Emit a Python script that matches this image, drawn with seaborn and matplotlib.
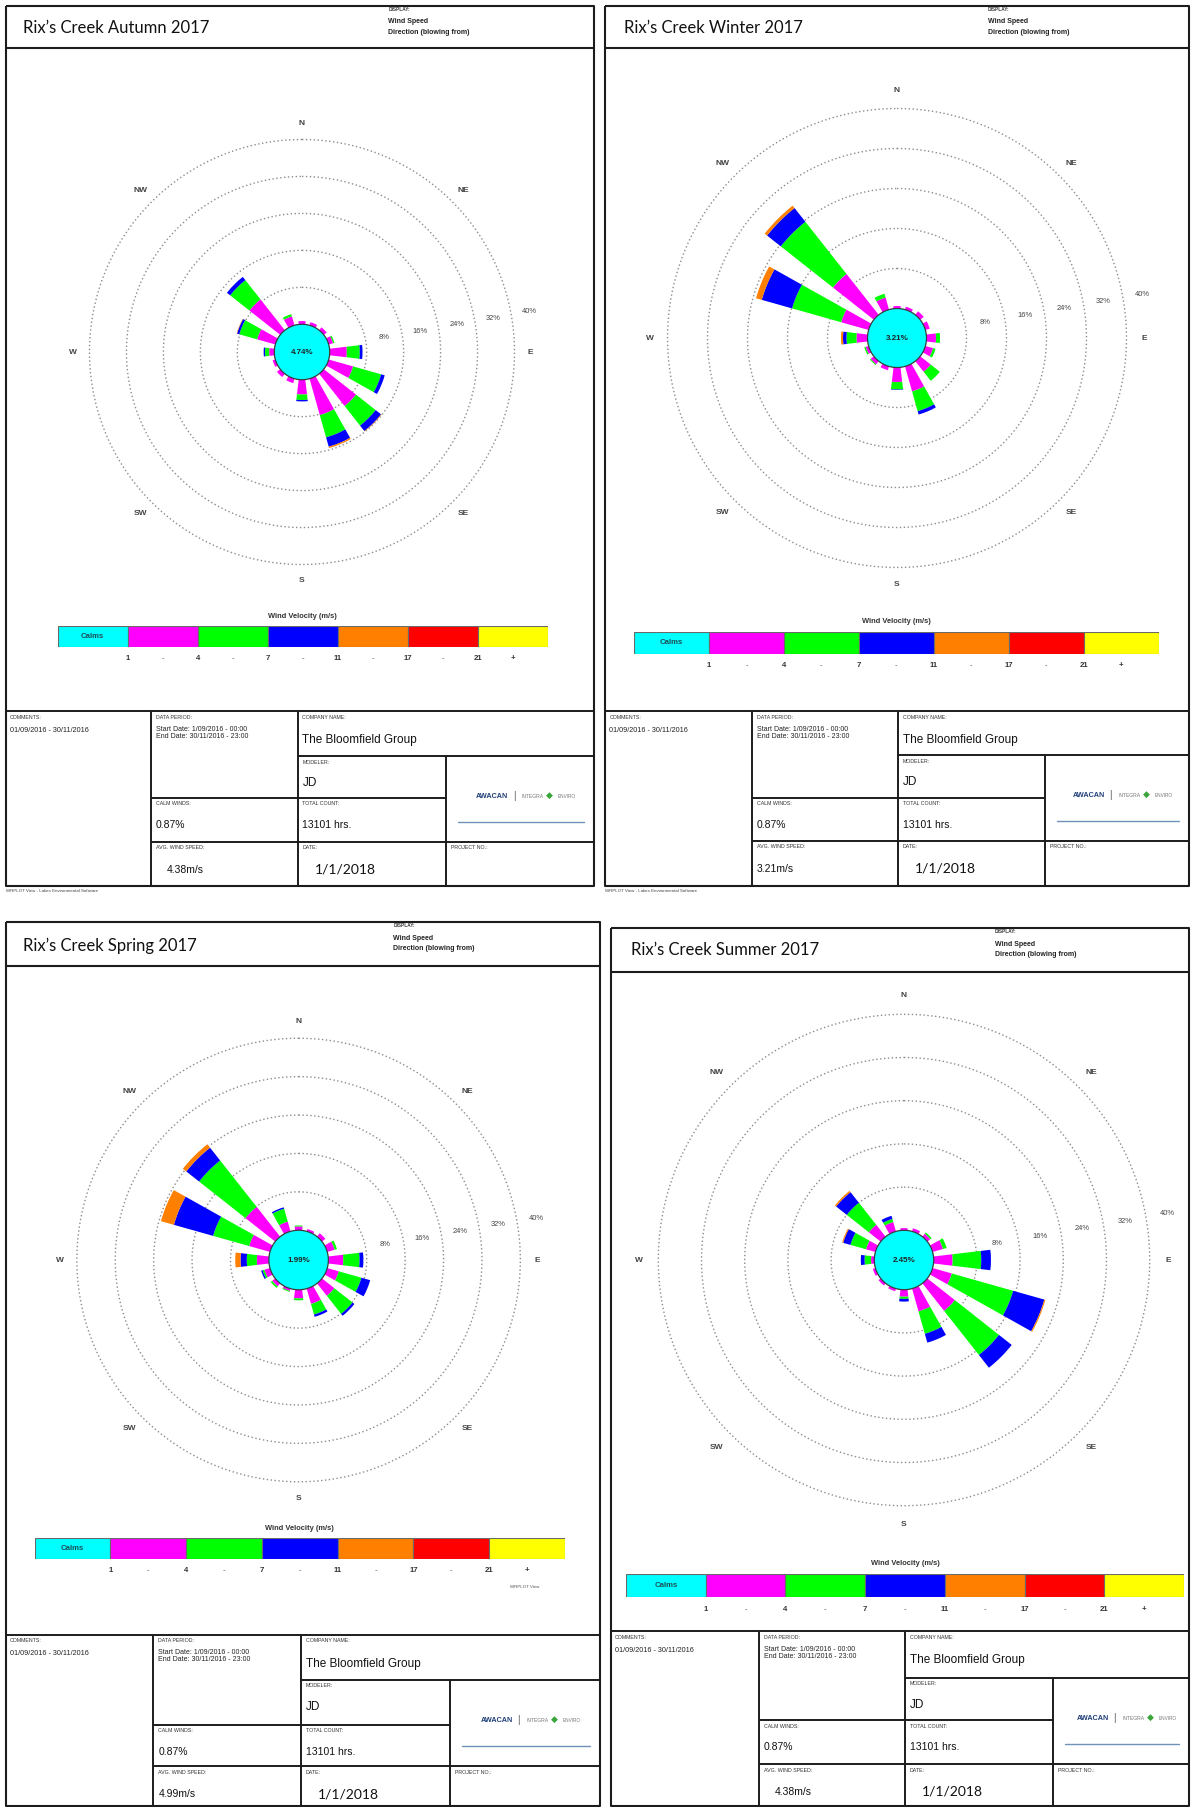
import numpy as np
import matplotlib
matplotlib.use("Agg")
import matplotlib.pyplot as plt
import seaborn as sns

sns.set_theme(style="white")
plt.rcParams["font.family"] = ["Liberation Sans", "DejaVu Sans"]

# ---------------------------------------------------------------- data
DIRECTIONS = ["N", "NNE", "NE", "ENE", "E", "ESE", "SE", "SSE",
              "S", "SSW", "SW", "WSW", "W", "WNW", "NW", "NNW"]
SPEED_BINS = ["Calms", "1 - 4", "4 - 7", "7 - 11", "11 - 17", "17 - 21", "21 +"]
SPEED_EDGES = ["1", "4", "7", "11", "17", "21"]
BIN_COLORS = ["#00FFFF", "#FF00FF", "#00FF00", "#0000FF", "#FF8000", "#FF0000", "#FFFF00"]
RING_PCT = [8, 16, 24, 32, 40]
COMPASS = ["N", "NE", "E", "SE", "S", "SW", "W", "NW"]

# frequency (%) per direction, one list per wind-speed class
AUTUMN_1_4 = [0.7, 0.7, 0.8, 1.0, 3.7, 5.5, 8.9, 8.2, 3.2, 1.0, 0.9, 0.6, 1.1, 4.1, 8.5, 2.0]
AUTUMN_4_7 = [0.0, 0.0, 0.0, 0.3, 2.8, 6.3, 5.4, 5.0, 1.2, 0.0, 0.0, 0.0, 0.9, 4.0, 5.3, 0.5]
AUTUMN_7_11 = [0.0, 0.0, 0.0, 0.0, 0.6, 0.8, 1.5, 2.1, 0.3, 0.0, 0.0, 0.0, 0.3, 0.5, 0.9, 0.0]
AUTUMN_11_17 = [0.0, 0.0, 0.0, 0.0, 0.0, 0.0, 0.1, 0.3, 0.0, 0.0, 0.0, 0.0, 0.0, 0.1, 0.0, 0.0]

WINTER_1_4 = [0.5, 0.6, 0.9, 0.9, 1.9, 1.6, 2.7, 5.2, 2.9, 0.8, 0.8, 0.6, 2.2, 5.7, 10.4, 2.5]
WINTER_4_7 = [0.0, 0.0, 0.0, 0.0, 0.8, 0.5, 2.3, 4.1, 1.5, 0.0, 0.2, 0.3, 2.0, 10.2, 13.3, 0.8]
WINTER_7_11 = [0.0, 0.0, 0.0, 0.0, 0.0, 0.0, 0.0, 0.7, 0.1, 0.0, 0.0, 0.0, 0.7, 6.3, 3.5, 0.0]
WINTER_11_17 = [0.0, 0.0, 0.0, 0.0, 0.0, 0.0, 0.0, 0.0, 0.0, 0.0, 0.0, 0.0, 0.4, 1.2, 0.6, 0.0]

SPRING_1_4 = [0.8, 0.5, 0.9, 1.6, 3.1, 2.5, 3.3, 3.3, 1.8, 0.5, 0.8, 1.2, 2.5, 4.5, 7.9, 2.1]
SPRING_4_7 = [0.2, 0.0, 0.0, 0.5, 3.4, 4.9, 4.8, 2.3, 0.4, 0.2, 0.4, 0.4, 2.1, 7.8, 12.3, 2.8]
SPRING_7_11 = [0.0, 0.0, 0.0, 0.0, 0.8, 1.9, 0.5, 0.5, 0.0, 0.0, 0.0, 0.3, 1.3, 8.5, 3.4, 0.3]
SPRING_11_17 = [0.0, 0.0, 0.0, 0.0, 0.0, 0.0, 0.0, 0.0, 0.0, 0.0, 0.0, 0.0, 1.1, 2.8, 0.9, 0.0]

SUMMER_1_4 = [0.4, 0.6, 0.7, 2.0, 3.5, 3.7, 6.5, 4.4, 1.3, 0.5, 0.5, 0.5, 0.6, 1.8, 2.8, 1.8]
SUMMER_4_7 = [0.0, 0.0, 0.3, 0.7, 5.3, 11.8, 10.4, 4.3, 0.4, 0.0, 0.0, 0.0, 1.2, 3.0, 5.2, 0.6]
SUMMER_7_11 = [0.0, 0.0, 0.0, 0.0, 1.8, 6.0, 3.0, 1.7, 0.5, 0.0, 0.0, 0.0, 0.7, 1.4, 2.5, 0.6]
SUMMER_11_17 = [0.0, 0.0, 0.0, 0.0, 0.0, 0.2, 0.0, 0.0, 0.0, 0.0, 0.0, 0.0, 0.0, 0.2, 0.3, 0.0]

SEASONS = ["Autumn", "Winter", "Spring", "Summer"]
CENTRE_PCT = [4.74, 3.21, 1.99, 2.45]
AVG_SPEED = ["4.38m/s", "3.21m/s", "4.99m/s", "4.38m/s"]
COMMENT = "01/09/2016 - 30/11/2016"
PERIOD_START = "Start Date: 1/09/2016 - 00:00"
PERIOD_END = "End Date: 30/11/2016 - 23:00"
COMPANY = "The Bloomfield Group"
MODELER = "JD"
CALM_WINDS = "0.87%"
TOTAL_COUNT = "13101 hrs."
DATE = "1/1/2018"

SEGMENTS = {
    "Autumn": [AUTUMN_1_4, AUTUMN_4_7, AUTUMN_7_11, AUTUMN_11_17],
    "Winter": [WINTER_1_4, WINTER_4_7, WINTER_7_11, WINTER_11_17],
    "Spring": [SPRING_1_4, SPRING_4_7, SPRING_7_11, SPRING_11_17],
    "Summer": [SUMMER_1_4, SUMMER_4_7, SUMMER_7_11, SUMMER_11_17],
}

# ---------------------------------------------------------------- page layout (pixels)
W, H = 1191, 1807
LAYOUT = {
    "Autumn": dict(box=(5.8, 593.8, 5.8, 885.5), tb=48.4, title=(23, 27.5), head=(388.5, 9.5),
                   centre=(302, 352), k=4.62, r0=6.0,
                   leg=(57.6, 547.6, 626, 647), cols=(5.8, 151, 297.5, 446, 593.8),
                   rows=(711.4, 756.3, 797.8, 841.7), avg_dx=16, foot=True),
    "Winter": dict(box=(605.3, 1188.7, 5.8, 885.5), tb=48.4, title=(623.7, 27.5), head=(988, 9.5),
                   centre=(897, 338), k=5.0, r0=5.9,
                   leg=(634.1, 1158.7, 631.8, 653.7), cols=(605.3, 752, 898, 1044.6, 1188.7),
                   rows=(711.4, 755.2, 797.8, 840.5), avg_dx=5, foot=True),
    "Spring": dict(box=(5.8, 599.5, 922.4, 1805.5), tb=966.2, title=(23, 945.4), head=(393.2, 925.8),
                   centre=(298.6, 1260), k=4.8, r0=6.2,
                   leg=(34.6, 564.9, 1538, 1558.8), cols=(5.8, 153.3, 300.9, 449.7, 599.5),
                   rows=(1634.9, 1679.8, 1724.8, 1766.3), avg_dx=5, foot=False),
    "Summer": dict(box=(611.1, 1188.7, 928.1, 1805.5), tb=971.9, title=(630.7, 950), head=(995, 931.6),
                   centre=(904, 1260), k=5.4, r0=5.5,
                   leg=(626, 1184.1, 1573.8, 1596.8), cols=(611.1, 758.6, 905, 1052.6, 1188.7),
                   rows=(1631.4, 1677.5, 1720.2, 1764), avg_dx=16, foot=False),
}

INK = "#1c1c1c"
fig = plt.figure(figsize=(W / 100, H / 100), dpi=100)
frame = fig.add_axes([0, 0, 1, 1])
frame.set_xlim(0, W)
frame.set_ylim(H, 0)
frame.axis("off")


def line(x, y, lw=1.4):
    frame.plot(x, y, color=INK, lw=lw, solid_capstyle="butt")


def small(x, y, s, size=3.8, **kw):
    frame.text(x, y, s, fontsize=size, color="#333333", va="center", ha="left", **kw)


def draw_sheet(season, L):
    x0, x1, y0, y1 = L["box"]
    line([x0, x1, x1, x0, x0], [y0, y0, y1, y1, y0], lw=1.5)
    line([x0, x1], [L["tb"], L["tb"]], lw=1.5)
    frame.text(L["title"][0], L["title"][1], f"Rix\u2019s Creek {season} 2017", fontsize=12,
               family=["Lato", "DejaVu Sans"], color="#111111", va="center", ha="left")
    hx, hy = L["head"]
    small(hx, hy, "DISPLAY:", 3.4, fontweight="bold")
    frame.text(hx, hy + 12.4, "Wind Speed", fontsize=5.0, color="#222222", va="center", fontweight="bold")
    frame.text(hx, hy + 22.8, "Direction (blowing from)", fontsize=5.0, color="#222222", va="center",
               fontweight="bold")

    # info table
    c0, c1, c2, c3, c4 = L["cols"]
    top, cl, ml, rl = L["rows"]
    line([c0, c4], [top, top])
    line([c1, c1], [top, y1])
    line([c2, c2], [top, y1])
    line([c3, c3], [cl, y1])
    line([c2, c4], [cl, cl])
    line([c1, c3], [ml, ml])
    line([c1, c4], [rl, rl])

    small(c0 + 4, top + 6, "COMMENTS:")
    frame.text(c0 + 4, top + 19, COMMENT, fontsize=5.2, color="#222222", va="center")
    small(c1 + 5, top + 6, "DATA PERIOD:")
    frame.text(c1 + 5, top + 18, PERIOD_START, fontsize=5.0, color="#222222", va="center")
    frame.text(c1 + 5, top + 25, PERIOD_END, fontsize=5.0, color="#222222", va="center")
    small(c2 + 5, top + 6, "COMPANY NAME:")
    frame.text(c2 + 5, top + 29, COMPANY, fontsize=8.5, color="#111111", va="center")
    small(c2 + 5, cl + 6, "MODELER:")
    frame.text(c2 + 5, cl + 27, MODELER, fontsize=8.5, color="#111111", va="center")
    small(c1 + 5, ml + 6, "CALM WINDS:")
    frame.text(c1 + 5, ml + 27, CALM_WINDS, fontsize=7.5, color="#111111", va="center")
    small(c2 + 5, ml + 6, "TOTAL COUNT:")
    frame.text(c2 + 5, ml + 27, TOTAL_COUNT, fontsize=7.5, color="#111111", va="center")
    small(c1 + 5, rl + 6, "AVG. WIND SPEED:")
    frame.text(c1 + L["avg_dx"], rl + 28, AVG_SPEED[SEASONS.index(season)], fontsize=7.5,
               color="#111111", va="center")
    small(c2 + 5, rl + 6, "DATE:")
    frame.text(c2 + 17, rl + 28, DATE, fontsize=10, family=["Lato", "DejaVu Sans"],
               color="#111111", va="center")
    small(c3 + 5, rl + 6, "PROJECT NO.:")

    # logo block
    lx = (c3 + c4) / 2
    ly = cl + (rl - cl) * 0.47
    frame.text(lx - 12, ly, "AWACAN", fontsize=5.2, color="#1f3f78", ha="right", va="center",
               fontweight="bold")
    frame.text(lx - 6, ly, "|", fontsize=7, color="#555555", ha="center", va="center")
    frame.text(lx + 2, ly, "INTEGRA", fontsize=3.6, color="#777777", ha="left", va="center")
    frame.text(lx + 30, ly - 1, "\u25C6", fontsize=6.5, color="#3aa53a", ha="center", va="center")
    frame.text(lx + 38, ly, "ENVIRO", fontsize=3.4, color="#777777", ha="left", va="center")
    frame.plot([c3 + 12, c4 - 10], [cl + (rl - cl) * 0.77] * 2, color="#6f93b8", lw=1.0)

    if L["foot"]:
        frame.text(x0, y1 + 5, "WRPLOT View - Lakes Environmental Software", fontsize=3.2,
                   color="#444444", va="center", ha="left")


def draw_legend(L):
    lx0, lx1, ly0, ly1 = L["leg"]
    ax = fig.add_axes([lx0 / W, 1 - ly1 / H, (lx1 - lx0) / W, (ly1 - ly0) / H])
    xs = np.arange(len(SPEED_BINS))
    ax.bar(xs, np.ones(len(SPEED_BINS)), width=1.0, color=sns.color_palette(BIN_COLORS),
           edgecolor="#6a6a6a", linewidth=0.8)
    ax.set_xlim(-0.5, len(SPEED_BINS) - 0.5)
    ax.set_ylim(0, 1)
    ax.axis("off")
    ax.text(0, 0.5, SPEED_BINS[0], ha="center", va="center", fontsize=5.6, fontweight="bold",
            color="#1d4f55")
    ax.text((len(SPEED_BINS) - 1) / 2, 1.45, "Wind Velocity (m/s)", ha="center", va="center",
            fontsize=5.4, fontweight="bold", color="#333333", clip_on=False)
    for i, edge in enumerate(SPEED_EDGES):
        ax.text(i + 0.5, -0.55, edge, ha="center", va="center", fontsize=5.6, fontweight="bold",
                color="#333333", clip_on=False)
        if i < len(SPEED_EDGES) - 1:
            ax.text(i + 1, -0.55, "-", ha="center", va="center", fontsize=5.6, color="#555555",
                    clip_on=False)
    ax.text(len(SPEED_BINS) - 1, -0.55, "+", ha="center", va="center", fontsize=5.6,
            fontweight="bold", color="#333333", clip_on=False)


def draw_rose(season, L):
    cx, cy = L["centre"]
    k, r0 = L["k"], L["r0"]
    rmax = r0 + 47
    half = rmax * k
    ax = fig.add_axes([(cx - half) / W, (H - cy - half) / H, 2 * half / W, 2 * half / H],
                      projection="polar")
    ax.set_theta_zero_location("N")
    ax.set_theta_direction(-1)
    ax.set_ylim(0, rmax)
    ax.axis("off")
    ax.patch.set_alpha(0)

    t = np.linspace(0, 2 * np.pi, 721)
    for p in RING_PCT:
        ax.plot(t, np.full_like(t, r0 + p), color="#8c8c8c", lw=1.0, ls=(0, (1, 1.8)), zorder=1)
        ax.text(np.deg2rad(80), r0 + p + 4, f"{p}%", ha="center", va="center", fontsize=5.4,
                color="#444444")
    for i, lab in enumerate(COMPASS):
        ax.text(np.deg2rad(i * 45), r0 + 43.5, lab, ha="center", va="center", fontsize=6,
                fontweight="bold", color="#444444")

    theta = np.deg2rad(np.arange(len(DIRECTIONS)) * 22.5)
    cum = np.zeros(len(DIRECTIONS))
    for seg, col in zip(SEGMENTS[season], BIN_COLORS[1:]):
        seg = np.asarray(seg, dtype=float)
        ax.bar(theta, seg, width=np.deg2rad(13.5), bottom=r0 + cum, color=col,
               edgecolor="none", linewidth=0, zorder=3)
        cum += seg

    ax.fill(t, np.full_like(t, r0), facecolor=BIN_COLORS[0], edgecolor="#3a3a3a", lw=0.9, zorder=4)
    ax.text(0, 0, f"{CENTRE_PCT[SEASONS.index(season)]:.2f}%", ha="center", va="center",
            fontsize=5.8, fontweight="bold", color="#222222", zorder=5)


for season in SEASONS:
    L = LAYOUT[season]
    draw_sheet(season, L)
    draw_legend(L)
    draw_rose(season, L)

frame.text(524.6, 1586.5, "WRPLOT View", fontsize=3.2, color="#555555", ha="center", va="center")

fig.savefig("out.png", dpi=100)
